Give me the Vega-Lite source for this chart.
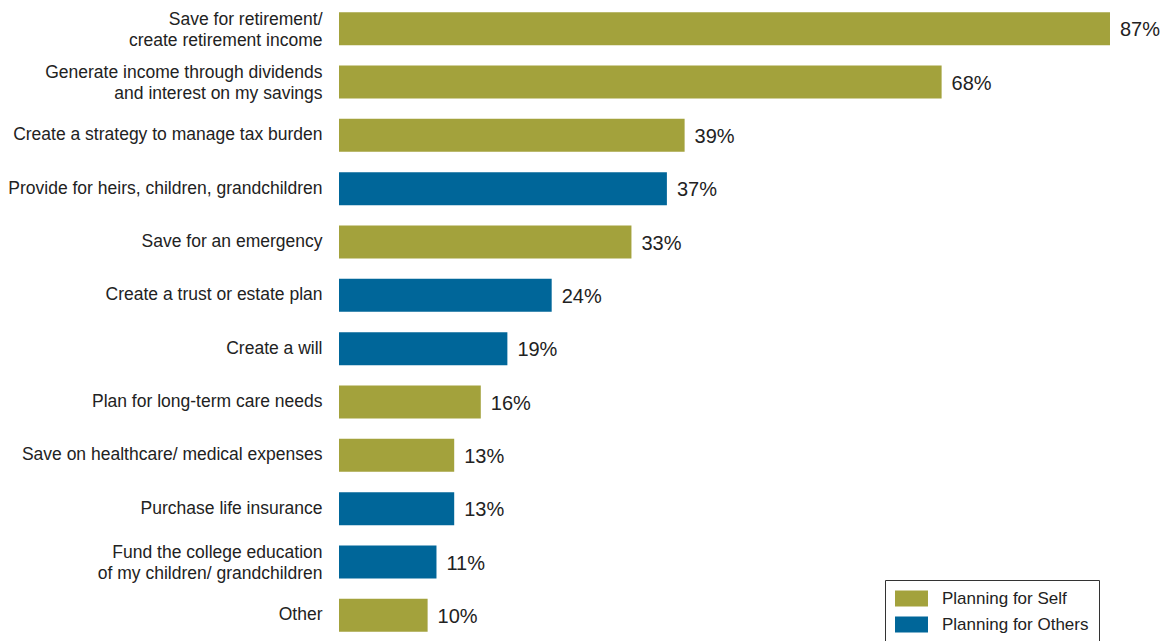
{
  "$schema": "https://vega.github.io/schema/vega-lite/v6.json",
  "autosize": "none",
  "width": 827,
  "height": 640,
  "padding": {"left": 339, "top": 2, "right": 0, "bottom": 0},
  "background": "white",
  "config": {"view": {"stroke": null}, "font": "Liberation Sans"},
  "data": {
    "values": [
      {"item": "Save for retirement/|create retirement income", "share": 0.87, "group": "Planning for Self"},
      {"item": "Generate income through dividends|and interest on my savings", "share": 0.68, "group": "Planning for Self"},
      {"item": "Create a strategy to manage tax burden", "share": 0.39, "group": "Planning for Self"},
      {"item": "Provide for heirs, children, grandchildren", "share": 0.37, "group": "Planning for Others"},
      {"item": "Save for an emergency", "share": 0.33, "group": "Planning for Self"},
      {"item": "Create a trust or estate plan", "share": 0.24, "group": "Planning for Others"},
      {"item": "Create a will", "share": 0.19, "group": "Planning for Others"},
      {"item": "Plan for long-term care needs", "share": 0.16, "group": "Planning for Self"},
      {"item": "Save on healthcare/ medical expenses", "share": 0.13, "group": "Planning for Self"},
      {"item": "Purchase life insurance", "share": 0.13, "group": "Planning for Others"},
      {"item": "Fund the college education|of my children/ grandchildren", "share": 0.11, "group": "Planning for Others"},
      {"item": "Other", "share": 0.10, "group": "Planning for Self"}
    ]
  },
  "encoding": {
    "y": {
      "field": "item",
      "type": "nominal",
      "sort": null,
      "scale": {"paddingInner": 0.38, "paddingOuter": 0.19},
      "axis": {
        "title": null,
        "ticks": false,
        "domain": false,
        "labelPadding": 17,
        "labelFontSize": 17.5,
        "labelColor": "#222222",
        "labelLineHeight": 21,
        "labelLimit": 400,
        "labelOffset": {"condition": {"test": "indexof(datum.value, '|') >= 0", "value": -9}, "value": 0},
        "labelExpr": "split(datum.label, '|')"
      }
    },
    "x": {
      "field": "share",
      "type": "quantitative",
      "scale": {"domain": [0, 0.9332], "nice": false},
      "axis": null
    }
  },
  "layer": [
    {
      "mark": {"type": "bar"},
      "encoding": {
        "color": {
          "field": "group",
          "type": "nominal",
          "scale": {"domain": ["Planning for Self", "Planning for Others"], "range": ["#a3a23c", "#006699"]},
          "legend": {
            "title": null,
            "orient": "none",
            "legendX": 546,
            "legendY": 578,
            "direction": "vertical",
            "strokeColor": "#333333",
            "padding": 10,
            "symbolType": "M-2,-0.97H2V0.97H-2Z",
            "symbolSize": 272,
            "symbolOffset": 8,
            "symbolStrokeWidth": 0,
            "symbolOpacity": 1,
            "labelFontSize": 17,
            "labelColor": "#222222",
            "labelOffset": 22,
            "rowPadding": 8,
            "labelLimit": 300
          }
        }
      }
    },
    {
      "mark": {"type": "text", "align": "left", "baseline": "middle", "dx": 10, "dy": 1.5, "fontSize": 20, "color": "#222222"},
      "encoding": {
        "text": {"field": "share", "type": "quantitative", "format": ".0%"}
      }
    }
  ]
}
